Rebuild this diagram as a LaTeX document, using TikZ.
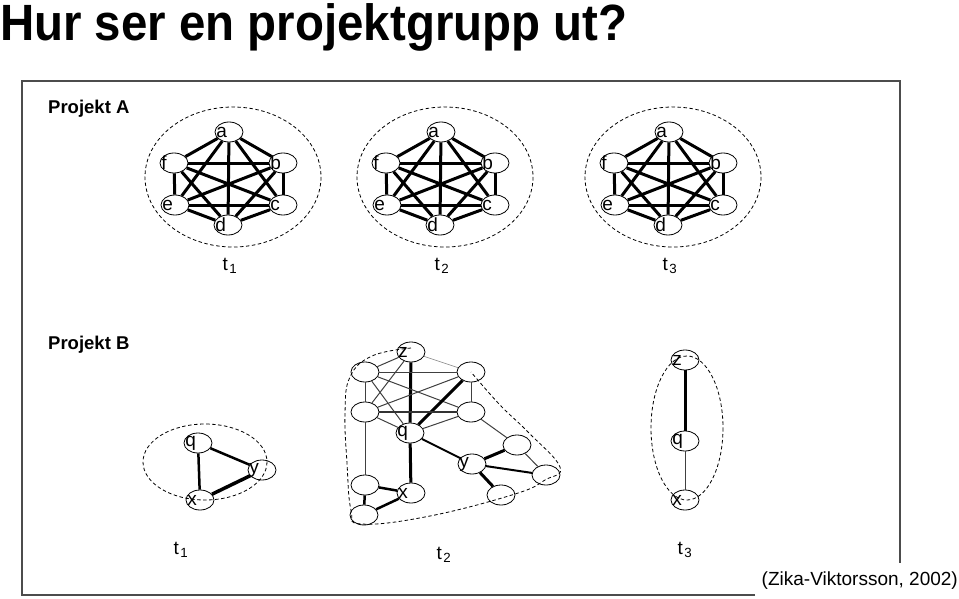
\documentclass[tikz,border=0pt]{standalone}
\usepackage{fontspec}
\setmainfont{Liberation Sans}
\usetikzlibrary{shapes.geometric}

\tikzset{
  member/.style={ellipse, draw, fill=white, line width=0.8pt, minimum width=28pt,
    minimum height=20pt, inner sep=0pt,
    label={[anchor=west, inner sep=1.5pt, font=\fontsize{19}{19}\selectfont]west:#1}},
  member/.default={},
  strongtie/.style={line width=3pt},
  midtie/.style={line width=2pt},
  weaktie/.style={line width=1pt, black!75},
  fence/.style={dash pattern=on 3.5pt off 2.5pt, line width=0.8pt},
  heading/.style={anchor=west, inner sep=0pt, font=\bfseries\fontsize{18.5}{20}\selectfont},
  stamp/.style={inner sep=0pt, font=\fontsize{19}{19}\selectfont}
}

\begin{document}
\begin{tikzpicture}[x=1pt,y=-1pt]
\useasboundingbox (0,0) rectangle (959,598);

\node[anchor=base west, inner sep=0pt, xscale=0.93, transform shape, font=\bfseries\fontsize{51}{51}\selectfont] (title) at (0,40) {Hur ser en projektgrupp ut?};
\draw[line width=1.5pt, black!70] (755,595) -- (22,595) -- (22,81) -- (900,81) -- (900,563);
\node[heading] (projA) at (48,109) {Projekt A};
\node[heading] (projB) at (48,345) {Projekt B};

% Projekt A: same group at t1, t2, t3
\foreach \dx/\i in {0/1,212/2,440/3}{
  \begin{scope}[xshift=\dx]
  \draw[fence] (233,177) ellipse [x radius=88, y radius=70];
  \node[member=a] (a\i) at (229,132) {};
  \node[member=f] (f\i) at (174,163) {};
  \node[member=b] (b\i) at (283,163) {};
  \node[member=e] (e\i) at (175,205) {};
  \node[member=c] (c\i) at (283,205) {};
  \node[member=d] (d\i) at (228,225) {};
  \foreach \u/\v in {a/b,a/c,a/d,a/e,a/f,b/c,b/d,b/e,b/f,c/d,c/e,c/f,d/e,d/f,e/f}
    \draw[strongtie] (\u\i) -- (\v\i);
  \node[stamp] (tA\i) at (230,266) {t\kern1.5pt\textsubscript{\i}};
  \end{scope}
}

% Projekt B, t1
\node[member=q] (qB1) at (198,443) {};
\node[member=y] (yB1) at (262,470) {};
\node[member=x] (xB1) at (200,500) {};
\draw[line width=2.5pt] (qB1) -- (xB1);
\draw[line width=2.5pt] (qB1) -- (yB1);
\draw[line width=3.5pt] (xB1) -- (yB1);
\draw[fence] (205,462) ellipse [x radius=62, y radius=38];

% Projekt B, t2
\node[member=z] (zB2) at (411,352) {};
\node[member] (ulB2) at (365,372) {};
\node[member] (urB2) at (471,372) {};
\node[member] (mlB2) at (365,412) {};
\node[member] (mrB2) at (471,412) {};
\node[member=q] (qB2) at (410,433) {};
\node[member] (hiB2) at (517,445) {};
\node[member=y] (yB2) at (472,464) {};
\node[member] (farB2) at (546,475) {};
\node[member] (loB2) at (501,495) {};
\node[member=x] (xB2) at (411,493) {};
\node[member] (llB2) at (365,485) {};
\node[member] (blB2) at (364,515) {};
\draw[weaktie] (zB2) -- (ulB2);
\draw[line width=0.6pt, black!50] (zB2) -- (urB2);
\draw[weaktie] (zB2) -- (mlB2);
\draw[strongtie] (zB2) -- (qB2);
\draw[strongtie] (qB2) -- (xB2);
\draw[weaktie] (ulB2) -- (urB2);
\draw[weaktie] (ulB2) -- (mlB2);
\draw[weaktie] (ulB2) -- (mrB2);
\draw[weaktie] (ulB2) -- (qB2);
\draw[weaktie] (urB2) -- (mlB2);
\draw[weaktie] (urB2) -- (mrB2);
\draw[strongtie] (urB2) -- (qB2);
\draw[midtie, black!80] (mlB2) -- (mrB2);
\draw[weaktie] (mlB2) -- (qB2);
\draw[weaktie] (mrB2) -- (qB2);
\draw[weaktie] (mlB2) -- (llB2);
\draw[weaktie] (mrB2) -- (hiB2);
\draw[midtie] (qB2) -- (yB2);
\draw[strongtie] (yB2) -- (hiB2);
\draw[midtie] (yB2) -- (farB2);
\draw[strongtie] (yB2) -- (loB2);
\draw[weaktie] (hiB2) -- (farB2);
\draw[line width=2.5pt] (xB2) -- (llB2);
\draw[line width=2.5pt] (xB2) -- (blB2);
\draw[line width=2.5pt] (llB2) -- (blB2);
\draw[fence] plot[smooth, tension=0.7] coordinates {(411,348) (372,356) (350,377) (345,413) (347,463) (351,510) (362,524) (430,516) (515,494) (545,480) (560,467) (528,432) (500,405) (471,372)};

% Projekt B, t3
\node[member=z] (zB3) at (685,360) {};
\node[member=q] (qB3) at (685,441) {};
\node[member=x] (xB3) at (685,500) {};
\draw[strongtie] (zB3) -- (qB3);
\draw[weaktie] (qB3) -- (xB3);
\draw[fence] (687,428) ellipse [x radius=36, y radius=72];

\node[stamp] (tB1) at (181,550) {t\kern1.5pt\textsubscript{1}};
\node[stamp] (tB2) at (444,555) {t\kern1.5pt\textsubscript{2}};
\node[stamp] (tB3) at (685,550) {t\kern1.5pt\textsubscript{3}};

\node[anchor=east, inner sep=0pt, font=\fontsize{19}{19}\selectfont] (source) at (958,581) {(Zika-Viktorsson, 2002)};
\end{tikzpicture}
\end{document}
